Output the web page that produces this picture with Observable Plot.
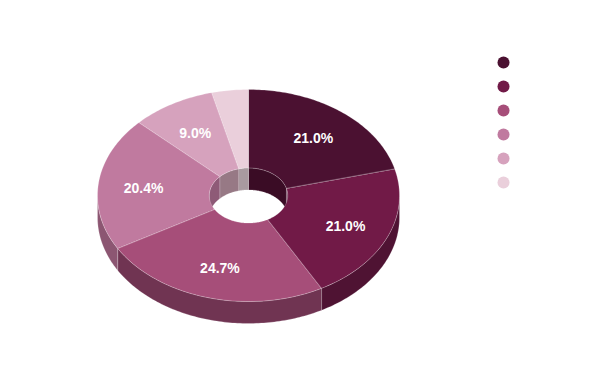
<!DOCTYPE html>
<html>
<head>
<meta charset="utf-8">
<script src="https://cdn.jsdelivr.net/npm/d3@7"></script>
<script src="https://cdn.jsdelivr.net/npm/@observablehq/plot@0.6"></script>
<style>
  html, body { margin: 0; padding: 0; background: #fff; }
  #wrap { position: relative; width: 600px; height: 377px; }
  #legend { position: absolute; left: 491px; top: 50px; }
  svg { font-family: "Liberation Sans", Arial, sans-serif; }
</style>
</head>
<body>
<div id="wrap"><div id="chart"></div><div id="legend"></div></div>
<script>
// ---- data ----
const categories = ["Category 1", "Category 2", "Category 3", "Category 4", "Category 5", "Category 6"];
const values = [21.0, 21.0, 24.7, 20.4, 9.0, 3.9];
const topColors = ["#4b1131", "#711a47", "#a64e79", "#c07a9f", "#d6a2bd", "#eacfdb"];
const sideColors = ["#3a0d27", "#4f1333", "#703452", "#8c5672", "#9a7082", "#a99aa0"];
const wallColors = ["#3a0c25", "#4a1030", "#703452", "#8e5a77", "#977985", "#a99aa0"];

// ---- geometry (in unit-ellipse coordinates) ----
const R_OUT = 1, R_IN = 0.26, DEPTH = 0.2075, LABEL_R = 0.7, STEP = 1;
const total = d3.sum(values);
const slices = [];
let acc = 0;
values.forEach((v, i) => {
  const a0 = acc / total * 360;
  acc += v;
  const a1 = acc / total * 360;
  slices.push({key: categories[i], value: v, a0, a1, i});
});
const rad = (deg) => deg * Math.PI / 180;
const pt = (deg, r, dz = 0) => ({x: Math.sin(rad(deg)) * r, y: -Math.cos(rad(deg)) * r + dz});
function arcPts(a0, a1, r, dz) {
  const pts = [];
  const n = Math.max(2, Math.ceil((a1 - a0) / STEP));
  for (let k = 0; k <= n; k++) pts.push(pt(a0 + (a1 - a0) * k / n, r, dz));
  return pts;
}
function clip(a0, a1, b0, b1) {
  const s = Math.max(a0, b0), e = Math.min(a1, b1);
  return s < e ? [s, e] : null;
}

const tops = [], sides = [], walls = [];
slices.forEach(s => {
  const poly = [...arcPts(s.a0, s.a1, R_OUT, 0), ...arcPts(s.a0, s.a1, R_IN, 0).reverse()];
  poly.forEach(p => tops.push({...p, key: s.key, color: topColors[s.i]}));
  const c = clip(s.a0, s.a1, 90, 270);
  if (c) {
    const sp = [...arcPts(c[0], c[1], R_OUT, 0), ...arcPts(c[0], c[1], R_OUT, DEPTH).reverse()];
    sp.forEach(p => sides.push({...p, key: s.key, color: sideColors[s.i]}));
  }
  [[0, 90], [270, 360]].forEach(([b0, b1], j) => {
    const w = clip(s.a0, s.a1, b0, b1);
    if (w) {
      const wp = [...arcPts(w[0], w[1], R_IN, 0), ...arcPts(w[0], w[1], R_IN, DEPTH).reverse()];
      wp.forEach(p => walls.push({...p, key: s.key + "-" + j, color: wallColors[s.i]}));
    }
  });
});
const labels = slices.filter(s => s.value >= 5).map(s => {
  const m = (s.a0 + s.a1) / 2;
  return {...pt(m, LABEL_R, 0), text: s.value.toFixed(1) + "%"};
});

const edge = {stroke: "#ffffff", strokeOpacity: 0.3, strokeWidth: 0.7, curve: "linear-closed"};

const chart = Plot.plot({
  width: 600, height: 377,
  margin: 0,
  x: {domain: [-1, 1], range: [97, 399], axis: null},
  y: {domain: [-1, 1], range: [89, 301], axis: null},
  color: {type: "identity"},
  marks: [
    Plot.line(walls, {x: "x", y: "y", z: "key", fill: "color", ...edge}),
    Plot.line(sides, {x: "x", y: "y", z: "key", fill: "color", ...edge}),
    Plot.line(tops, {x: "x", y: "y", z: "key", fill: "color", ...edge}),
    Plot.text(labels, {x: "x", y: "y", text: "text", fill: "#ffffff", fontSize: 14, fontWeight: "bold", dy: 2})
  ]
});
document.getElementById("chart").appendChild(chart);

const legendData = categories.map((c, i) => ({key: c, color: topColors[i]}));
const legend = Plot.plot({
  width: 24, height: 144, margin: 0,
  x: {domain: [0, 1], range: [12, 12], axis: null},
  y: {type: "point", domain: categories, range: [12, 132], padding: 0, axis: null},
  color: {type: "identity"},
  marks: [
    Plot.dot(legendData, {x: () => 0.5, y: "key", r: 6, fill: "color", stroke: "none", title: "key"})
  ]
});
document.getElementById("legend").appendChild(legend);
</script>
</body>
</html>
